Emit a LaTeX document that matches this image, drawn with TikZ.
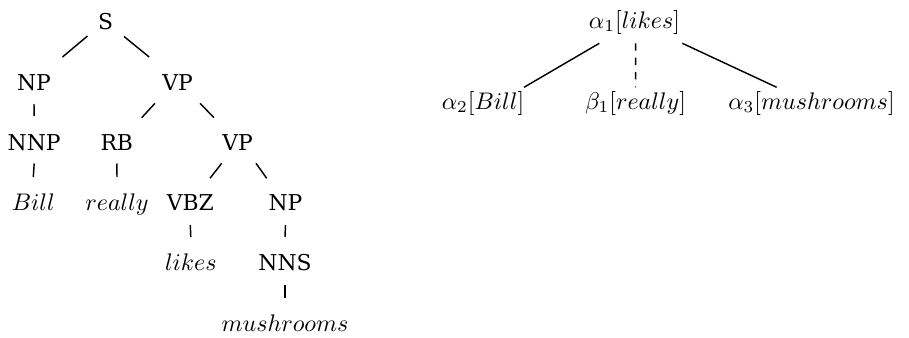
\documentclass[tikz,border=0pt]{standalone}
\usepackage{fontspec}
\newfontfamily\labfont{DejaVu Serif}
\usetikzlibrary{calc}
\begin{document}
\begin{tikzpicture}[x=0.4167pt,y=-0.4167pt,
  lab/.style={anchor=base,inner sep=0pt},
  cat/.style={anchor=base,inner sep=0pt,font=\labfont\fontsize{9.1}{11}\selectfont},
  edge/.style={line width=0.6pt},
  dedge/.style={line width=0.6pt,dashed}]
\useasboundingbox (0,0) rectangle (909,338);
% left tree
\node[cat] (S) at (105.5,29) {S};
\node[cat] (NPa) at (34,90) {NP};
\node[cat] (VPa) at (177.7,90) {VP};
\node[cat] (NNP) at (34.2,150) {NNP};
\node[cat] (RB) at (116.8,150) {RB};
\node[cat] (VPb) at (237.7,150) {VP};
\node[lab] (bill) at (33.3,210) {$Bill$};
\node[lab] (really) at (117,210) {$really$};
\node[cat] (VBZ) at (190.3,210) {VBZ};
\node[cat] (NPb) at (285.5,210) {NP};
\node[lab] (likes) at (190.8,270) {$likes$};
\node[cat] (NNS) at (285,270) {NNS};
\node[lab] (mush) at (285,331.5) {$mushrooms$};
\draw[edge] ($(S.base)+(-18,7)$) -- ($(NPa.base)+(28.5,-33)$);
\draw[edge] ($(S.base)+(18.5,7.5)$) -- ($(VPa.base)+(-28.5,-33)$);
\draw[edge] ($(NPa.base)+(0,14)$) -- ($(NNP.base)+(0,-34)$);
\draw[edge] ($(VPa.base)+(-22.7,13.3)$) -- ($(RB.base)+(24.9,-32.3)$);
\draw[edge] ($(VPa.base)+(22.3,13.3)$) -- ($(VPb.base)+(-23.7,-32.3)$);
\draw[edge] ($(NNP.base)+(0,13.5)$) -- ($(bill.base)+(0,-33)$);
\draw[edge] ($(RB.base)+(0,13.5)$) -- ($(really.base)+(0,-33)$);
\draw[edge] ($(VPb.base)+(-16,13.3)$) -- ($(VBZ.base)+(19.7,-31.7)$);
\draw[edge] ($(VPb.base)+(18.3,13.3)$) -- ($(NPb.base)+(-18.8,-31.7)$);
\draw[edge] ($(VBZ.base)+(0,15)$) -- ($(likes.base)+(0,-33)$);
\draw[edge] ($(NPb.base)+(0,15)$) -- ($(NNS.base)+(0,-33)$);
\draw[edge] ($(NNS.base)+(0,15)$) -- ($(mush.base)+(0,-34)$);
% right tree
\node[lab] (a1) at (634.5,28.3) {$\alpha_1[likes]$};
\node[lab] (a2) at (483,109) {$\alpha_2[Bill]$};
\node[lab] (b1) at (635.5,109) {$\beta_1[really]$};
\node[lab] (a3) at (811.5,109) {$\alpha_3[mushrooms]$};
\draw[edge] ($(a1.base)+(-35.2,15)$) -- ($(a2.base)+(41,-21.7)$);
\draw[dedge] ($(a1.base)+(1.2,15)$) -- ($(b1.base)+(0,-21.7)$);
\draw[edge] ($(a1.base)+(47.8,15)$) -- ($(a3.base)+(-34.8,-21.7)$);
\end{tikzpicture}
\end{document}
